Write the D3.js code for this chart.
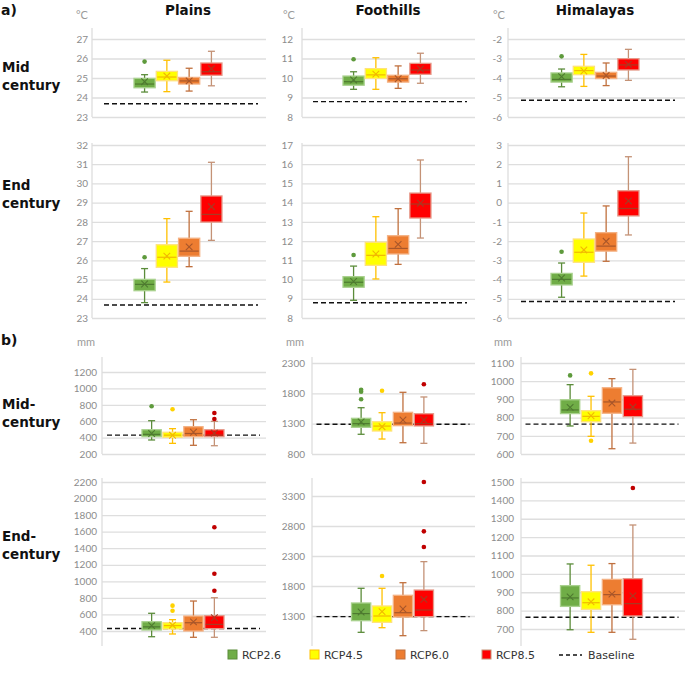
<!DOCTYPE html>
<html><head><meta charset="utf-8">
<script src="https://cdnjs.cloudflare.com/ajax/libs/d3/7.8.5/d3.min.js"></script>
<style>
body{margin:0;background:#fff;}
svg{display:block;font-family:"DejaVu Sans",sans-serif;}
</style></head>
<body>
<svg id="chart" width="685" height="683"></svg>
<script>
// ---------- DATA ----------
const series = ["RCP2.6","RCP4.5","RCP6.0","RCP8.5"];
const regions = ["Plains","Foothills","Himalayas"];
// each box: [lowerWhisker, q1, median, q3, upperWhisker, mean]
const tempMidPlains = [[24.28,24.50,24.69,24.98,25.17,24.81],[24.30,24.86,25.05,25.34,25.91,25.10],[24.33,24.69,24.85,25.03,25.50,24.85],[24.60,25.14,25.32,25.77,26.37,25.48]];
const tempMidPlainsOut = [[25.84],[],[],[]];
const tempEndPlains = [[23.80,24.42,24.75,25.01,25.57,24.77],[24.87,25.64,26.16,26.81,28.17,26.22],[25.67,26.21,26.48,27.15,28.55,26.70],[27.04,27.99,28.39,29.35,31.10,28.79]];
const tempEndPlainsOut = [[26.16],[],[],[]];
const tempMidFoothills = [[9.42,9.63,9.81,10.10,10.32,9.90],[9.42,9.98,10.16,10.48,11.04,10.20],[9.47,9.79,9.96,10.14,10.62,9.96],[9.73,10.19,10.41,10.75,11.27,10.46]];
const tempMidFoothillsOut = [[10.96],[],[],[]];
const tempEndFoothills = [[8.92,9.60,9.86,10.15,10.70,9.90],[10.03,10.74,11.26,11.94,13.27,11.33],[10.79,11.33,11.62,12.28,13.69,11.83],[12.16,13.20,13.93,14.50,16.22,13.97]];
const tempEndFoothillsOut = [[11.28],[],[],[]];
const tempMidHimalayas = [[-4.45,-4.21,-4.07,-3.74,-3.54,-3.93],[-4.43,-3.83,-3.62,-3.40,-2.79,-3.64],[-4.39,-4.03,-3.90,-3.71,-3.23,-3.87],[-4.12,-3.59,-3.33,-3.01,-2.53,-3.30]];
const tempMidHimalayasOut = [[-2.89],[],[],[]];
const tempEndHimalayas = [[-4.92,-4.28,-3.99,-3.68,-3.14,-3.92],[-3.82,-3.10,-2.58,-1.89,-0.54,-2.46],[-3.05,-2.52,-2.26,-1.56,-0.17,-2.01],[-1.68,-0.69,-0.30,0.62,2.39,0.09]];
const tempEndHimalayasOut = [[-2.55],[],[],[]];
const precMidPlains = [[371,411,440,496,606,450],[330,404,430,465,509,428],[306,411,450,533,618,465],[301,411,430,496,598,455]];
const precMidPlainsOut = [[782],[745],[],[627,700]];
const precEndPlains = [[331,412,450,512,614,465],[364,424,465,500,537,470],[324,400,500,581,762,510],[324,428,480,585,802,560]];
const precEndPlainsOut = [[],[645,706],[],[887,1092,1653]];
const precMidFoothills = [[1125,1240,1300,1388,1563,1330],[1047,1179,1260,1332,1481,1250],[986,1267,1310,1487,1817,1360],[976,1262,1300,1464,1740,1360]];
const precMidFoothillsOut = [[1702,1827,1860],[1843],[],[1949]];
const precEndFoothills = [[1028,1222,1340,1517,1762,1367],[1105,1195,1300,1467,1762,1372],[972,1283,1355,1645,1855,1417],[1056,1289,1400,1733,2206,1578]];
const precEndFoothillsOut = [[],[1967],[],[2450,2711,3533]];
const precMidHimalayas = [[754,822,842,898,981,856],[697,777,807,838,917,810],[629,824,886,964,1014,880],[660,805,846,920,1065,858]];
const precMidHimalayasOut = [[1032],[673,1043],[],[]];
const precEndHimalayas = [[696,823,869,936,1054,875],[682,807,843,903,1047,848],[682,832,887,970,1056,890],[644,771,838,974,1266,880]];
const precEndHimalayasOut = [[],[],[],[1467]];
const tempBaseline = [23.68, 8.79, -5.14];
const precBaseline = [430, 1290, 764];
// tick labels
const ticksTempMid = [[23,24,25,26,27],[8,9,10,11,12],[-6,-5,-4,-3,-2]];
const ticksTempEnd = [[23,24,25,26,27,28,29,30,31,32],[8,9,10,11,12,13,14,15,16,17],[-6,-5,-4,-3,-2,-1,0,1,2,3]];
const ticksPrecMid = [[200,400,600,800,1000,1200],[800,1300,1800,2300],[600,700,800,900,1000,1100]];
const ticksPrecEnd = [[400,600,800,1000,1200,1400,1600,1800,2000,2200],[1300,1800,2300,2800,3300],[700,800,900,1000,1100,1200,1300,1400,1500]];
const rowLabels = [["Mid","century"],["End","century"],["Mid-","century"],["End-","century"]];
const units = ["°C","mm"];

// ---------- STYLE ----------
const fills   = ["#70AD47","#FFFF00","#ED7D31","#FF0000"];
const borders = ["#A9D18E","#FFE27A","#F4B183","#E69A8A"];
const whisk   = ["#5B8C3A","#FFC000","#C0703E","#C49276"];
const inner   = ["#4E7A30","#F2B800","#A8562A","#A83A22"];
const outC    = ["#5E9A3C","#FFD200","#D86E2A","#C00000"];

const svg = d3.select("#chart");

// layout per row: [tickTopY, tickBottomY, plotTop, plotBottom]
const rowsY = [
  {top:39, bot:117, pTop:28, pBot:117},
  {top:145, bot:318, pTop:143, pBot:318},
  {top:null, bot:454, pTop:357, pBot:454},
  {top:null, bot:null, pTop:478, pBot:646}
];
// per row, per column x geometry: [left, right, center]
const colsA = [[92,266,178],[302,475,387],[508,685,595]];
const colsB = [[102,266,183],[312,475,392.5],[521,685,601.5]];
const labelRightA = [88,293,502];
const labelRightB = [97,305,514];

const panels = [];
const boxSets = [
  [tempMidPlains,tempMidFoothills,tempMidHimalayas],
  [tempEndPlains,tempEndFoothills,tempEndHimalayas],
  [precMidPlains,precMidFoothills,precMidHimalayas],
  [precEndPlains,precEndFoothills,precEndHimalayas]];
const outSets = [
  [tempMidPlainsOut,tempMidFoothillsOut,tempMidHimalayasOut],
  [tempEndPlainsOut,tempEndFoothillsOut,tempEndHimalayasOut],
  [precMidPlainsOut,precMidFoothillsOut,precMidHimalayasOut],
  [precEndPlainsOut,precEndFoothillsOut,precEndHimalayasOut]];
const tickSets = [ticksTempMid,ticksTempEnd,ticksPrecMid,ticksPrecEnd];
// pixel positions of first/last tick (layout)
const tickPix = [
  [[117,39],[117,39],[117,39]],
  [[318,145],[318,145],[318,145]],
  [[454,372],[454,363],[454,363]],
  [[631,482],[616,496],[629,482]]];

for (let r=0;r<4;r++){
  for (let c=0;c<3;c++){
    const ticks = tickSets[r][c];
    const cols = r<2 ? colsA : colsB;
    const [left,right,center] = cols[c];
    const y = d3.scaleLinear().domain([ticks[0], ticks[ticks.length-1]]).range(tickPix[r][c]);
    const step = r<2 ? 22 : 20.5;
    const x = d3.scaleBand().domain(series).range([center-2*step, center+2*step]).paddingInner(r<2?0.05:0.08).paddingOuter(0);
    const pTop = rowsY[r].pTop, pBot = rowsY[r].pBot;
    const g = svg.append("g");
    // gridlines
    const grid = d3.axisLeft(y).tickValues(ticks).tickSize(-(right-left)).tickFormat("");
    g.append("g").attr("transform",`translate(${left},0)`).call(grid)
      .call(s=>s.select(".domain").remove())
      .call(s=>s.selectAll("line").attr("stroke","#dedede").attr("stroke-width",1.3));
    // axis line
    g.append("line").attr("x1",left).attr("x2",left).attr("y1",pTop).attr("y2",pBot)
      .attr("stroke","#dedede").attr("stroke-width",1.3);
    // tick labels
    const lr = r<2 ? labelRightA[c] : labelRightB[c];
    const ax = d3.axisLeft(y).tickValues(ticks).tickSize(0).tickPadding(0).tickFormat(d=>d<0?"-"+Math.abs(d):d);
    g.append("g").attr("transform",`translate(${lr},0)`).call(ax)
      .call(s=>s.select(".domain").remove())
      .call(s=>s.selectAll("text").attr("fill","#8c8c8c").attr("font-size","10px")
        .attr("font-family","Lato, 'DejaVu Sans', sans-serif"));
    // baseline
    const base = r<2 ? tempBaseline[c] : precBaseline[c];
    const bl = r<2 ? [center-74, center+80] : [center-76, center+77];
    g.append("line").attr("x1",bl[0]).attr("x2",bl[1]).attr("y1",y(base)).attr("y2",y(base))
      .attr("stroke","#111").attr("stroke-width",1.4).attr("stroke-dasharray","5,3");
    // boxes
    const data = boxSets[r][c], outs = outSets[r][c];
    data.forEach((d,i)=>{
      const bx = x(series[i]), bw = x.bandwidth(), cx = bx + bw/2;
      const gg = g.append("g");
      const cap = 3.5;
      // whiskers
      gg.append("line").attr("x1",cx).attr("x2",cx).attr("y1",y(d[4])).attr("y2",y(d[3])).attr("stroke",whisk[i]).attr("stroke-width",1.3);
      gg.append("line").attr("x1",cx).attr("x2",cx).attr("y1",y(d[1])).attr("y2",y(d[0])).attr("stroke",whisk[i]).attr("stroke-width",1.3);
      gg.append("line").attr("x1",cx-cap).attr("x2",cx+cap).attr("y1",y(d[4])).attr("y2",y(d[4])).attr("stroke",whisk[i]).attr("stroke-width",1.3);
      gg.append("line").attr("x1",cx-cap).attr("x2",cx+cap).attr("y1",y(d[0])).attr("y2",y(d[0])).attr("stroke",whisk[i]).attr("stroke-width",1.3);
      // box
      gg.append("rect").attr("x",bx).attr("width",bw).attr("y",y(d[3])).attr("height",Math.max(1,y(d[1])-y(d[3])))
        .attr("fill",fills[i]).attr("stroke",borders[i]).attr("stroke-width",1.3);
      // median
      gg.append("line").attr("x1",bx+1).attr("x2",bx+bw-1).attr("y1",y(d[2])).attr("y2",y(d[2])).attr("stroke",inner[i]).attr("stroke-width",1.2);
      // mean X
      const my = y(d[5]), m = 3.3;
      gg.append("path").attr("d",`M${cx-m},${my-m}L${cx+m},${my+m}M${cx-m},${my+m}L${cx+m},${my-m}`)
        .attr("stroke",inner[i]).attr("stroke-width",1.1).attr("fill","none");
      // outliers
      outs[i].forEach(v=>{
        gg.append("circle").attr("cx",cx).attr("cy",y(v)).attr("r",2.3).attr("fill",outC[i]);
      });
    });
  }
}

// titles
const titleX = [188,388,595];
regions.forEach((t,i)=>svg.append("text").attr("x",titleX[i]).attr("y",15).attr("text-anchor","middle")
  .attr("font-size","13.5px").attr("font-weight","bold").attr("fill","#111").text(t));
// panel labels
svg.append("text").attr("x",1).attr("y",15).attr("font-size","14px").attr("font-weight","bold").attr("fill","#111").text("a)");
svg.append("text").attr("x",1).attr("y",345).attr("font-size","14px").attr("font-weight","bold").attr("fill","#111").text("b)");
// unit labels
const unitXA = [82,289,499];
unitXA.forEach(xx=>svg.append("text").attr("x",xx).attr("y",19).attr("text-anchor","middle")
  .attr("font-size","11px").attr("fill","#9a9a9a").attr("font-family","Lato, sans-serif").text(units[0]));
const unitXB = [86,295,503];
unitXB.forEach(xx=>svg.append("text").attr("x",xx).attr("y",346).attr("text-anchor","middle")
  .attr("font-size","11px").attr("fill","#9a9a9a").attr("font-family","Lato, sans-serif").text(units[1]));
// row labels
const rowLabelY = [72,190,409,541];
rowLabels.forEach((lines,i)=>{
  const t = svg.append("text").attr("x",2).attr("y",rowLabelY[i]).attr("font-size","13.5px").attr("font-weight","bold").attr("fill","#111");
  lines.forEach((l,j)=>t.append("tspan").attr("x",2).attr("dy",j===0?0:18).text(l));
});

// legend
const legX = [228,310,396,482];
series.forEach((s,i)=>{
  svg.append("rect").attr("x",legX[i]).attr("y",650).attr("width",9).attr("height",9)
    .attr("fill",fills[i]).attr("stroke",whisk[i]).attr("stroke-width",1);
  svg.append("text").attr("x",legX[i]+14).attr("y",659).attr("font-size","11px").attr("fill","#333").text(s);
});
svg.append("line").attr("x1",559).attr("x2",582).attr("y1",655).attr("y2",655)
  .attr("stroke","#111").attr("stroke-width",1.4).attr("stroke-dasharray","4,3");
svg.append("text").attr("x",588).attr("y",659).attr("font-size","11px").attr("fill","#333").text("Baseline");
</script>
</body></html>
